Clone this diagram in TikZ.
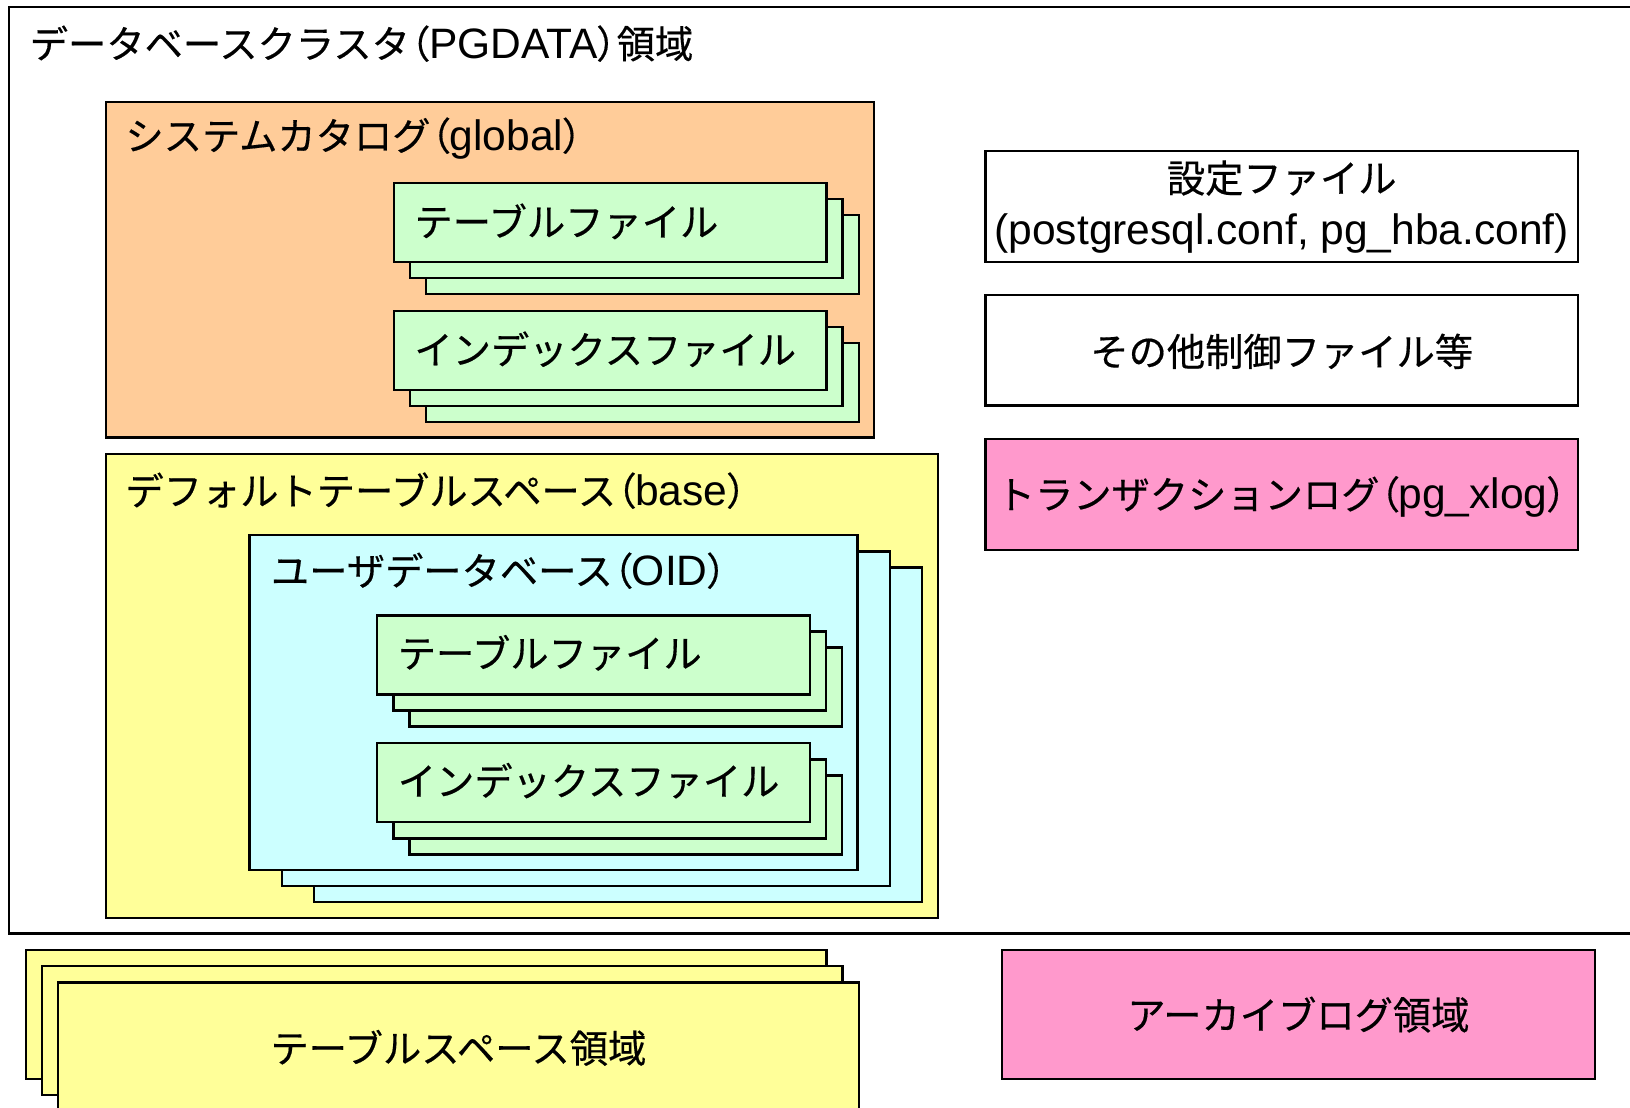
\documentclass[tikz,border=0pt]{standalone}
\usepackage{fontspec}
\usepackage{xcolor}
\usepackage{tikz}

\setmainfont{Liberation Sans}
\newfontfamily\jpfont{Noto Sans CJK JP}[Scale=0.9,FakeBold=0.4]
\newfontfamily\jpnarrow{Noto Sans CJK JP}[Scale=0.9,FakeBold=0.4,RawFeature=+palt]
\newcommand{\jp}[1]{{\jpfont #1}}
\newcommand{\jlp}{{\jpnarrow （}}
\newcommand{\jrp}{{\jpnarrow ）}}

\definecolor{catalog}{HTML}{FFCC99}
\definecolor{file}{HTML}{CCFFCC}
\definecolor{tblspc}{HTML}{FFFF99}
\definecolor{userdb}{HTML}{CCFFFF}
\definecolor{wal}{HTML}{FF99CC}

\begin{document}
\begin{tikzpicture}[x=0.10395mm, y=-0.10395mm,
        box/.style = {draw=black, line width=0.65pt},
        lbl/.style = {anchor=west, inner sep=0pt,
            font=\fontsize{12.1pt}{14.5pt}\selectfont},
        mid/.style = {align=center, inner sep=0pt,
            font=\fontsize{12.1pt}{14.8pt}\selectfont}]

        \useasboundingbox (0,0) rectangle (1568,1065);
        \clip (0,0) rectangle (1568,1065);

        % Cluster area
        \draw[box] (9,7) rectangle (1600,898);
        \node[lbl] (cluster) at (28,42) {\jp{データベースクラスタ}\jlp PGDATA\jrp\jp{領域}};

        % System catalog
        \draw[box, fill=catalog] (102,98) rectangle (841,421);
        \node[lbl] (catalog) at (120,133) {\jp{システムカタログ}\jlp global\jrp};
        \foreach \d in {31,15.5,0} {
            \draw[box, fill=file] (379+\d,176+\d) rectangle (795+\d,252+\d);
            \draw[box, fill=file] (379+\d,299+\d) rectangle (795+\d,375+\d);
        }
        \node[lbl] (gtable) at (398,213) {\jp{テーブルファイル}};
        \node[lbl] (gindex) at (398,336) {\jp{インデックスファイル}};

        % Default tablespace
        \draw[box, fill=tblspc] (102,437) rectangle (902,883);
        \node[lbl] (base) at (120,472) {\jp{デフォルトテーブルスペース}\jlp base\jrp};
        \foreach \d in {62,31,0}
            \draw[box, fill=userdb] (240+\d,515+\d/2) rectangle (825+\d,837+\d/2);
        \node[lbl] (userdb) at (260,549) {\jp{ユーザデータベース}\jlp OID\jrp};
        \foreach \d in {31,15.5,0} {
            \draw[box, fill=file] (363+\d,592+\d) rectangle (779+\d,668+\d);
            \draw[box, fill=file] (363+\d,715+\d) rectangle (779+\d,791+\d);
        }
        \node[lbl] (utable) at (382,628) {\jp{テーブルファイル}};
        \node[lbl] (uindex) at (382,751) {\jp{インデックスファイル}};

        % Right column
        \draw[box, fill=white] (948,145) rectangle (1518,252);
        \node[mid] (conf) at (1233,199) {\jp{設定ファイル}\\(postgresql.conf, pg\_hba.conf)};
        \draw[box, fill=white] (948,284) rectangle (1518,390);
        \node[mid] (ctrl) at (1233,338) {\jp{その他制御ファイル等}};
        \draw[box, fill=wal] (948,422) rectangle (1518,529);
        \node[mid] (xlog) at (1233,478) {\jp{トランザクションログ}\jlp pg\_xlog\jrp};

        % Tablespaces and archive log
        \foreach \d in {0,15.5,31}
            \draw[box, fill=tblspc] (25+\d,914+\d) rectangle (795+\d,1038+\d);
        \node[mid] (tspc) at (441,1008) {\jp{テーブルスペース領域}};
        \draw[box, fill=wal] (964,914) rectangle (1534,1038);
        \node[mid] (arch) at (1249,976) {\jp{アーカイブログ領域}};
    \end{tikzpicture}
\end{document}
